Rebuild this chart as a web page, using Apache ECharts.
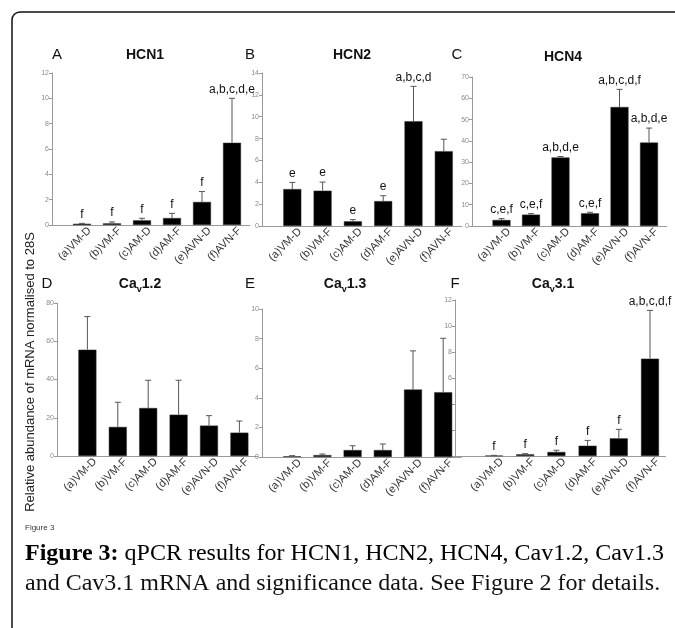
<!DOCTYPE html>
<html>
<head>
<meta charset="utf-8">
<title>Figure 3</title>
<script src="https://cdn.jsdelivr.net/npm/echarts@6/dist/echarts.min.js"></script>
<style>
html, body { margin: 0; padding: 0; background: #fff; }
#main { width: 675px; height: 628px; }
</style>
</head>
<body>
<div id="main"></div>
<script>
// categories (x axis)
var cats = ['(a)VM-D', '(b)VM-F', '(c)AM-D', '(d)AM-F', '(e)AVN-D', '(f)AVN-F'];

// mean and error (upper half of error bar) per panel
var hcn1 = [0.10, 0.13, 0.37, 0.55, 1.82, 6.49];
var hcn1Err = [0.03, 0.11, 0.16, 0.37, 0.82, 3.51];
var hcn1Sig = ['f', 'f', 'f', 'f', 'f', 'a,b,c,d,e'];

var hcn2 = [3.38, 3.23, 0.43, 2.28, 9.59, 6.85];
var hcn2Err = [0.61, 0.79, 0.15, 0.49, 3.19, 1.09];
var hcn2Sig = ['e', 'e', 'e', 'e', 'a,b,c,d', ''];

var hcn4 = [2.83, 5.34, 32.2, 5.97, 55.9, 39.2];
var hcn4Err = [0.62, 0.46, 0.45, 0.47, 8.3, 6.8];
var hcn4Sig = ['c,e,f', 'c,e,f', 'a,b,d,e', 'c,e,f', 'a,b,c,d,f', 'a,b,d,e'];

var cav12 = [55.6, 15.2, 25.1, 21.6, 15.9, 12.2];
var cav12Err = [17.3, 12.9, 14.5, 18.0, 5.2, 6.1];
var cav12Sig = ['', '', '', '', '', ''];

var cav13 = [0.05, 0.13, 0.47, 0.47, 4.56, 4.38];
var cav13Err = [0.04, 0.07, 0.29, 0.41, 2.61, 3.64];
var cav13Sig = ['', '', '', '', '', ''];

var cav31 = [0.03, 0.13, 0.31, 0.79, 1.36, 7.49];
var cav31Err = [0.02, 0.05, 0.13, 0.41, 0.69, 3.71];
var cav31Sig = ['f', 'f', 'f', 'f', 'f', 'a,b,c,d,f'];

var panels = [
    {mean: hcn1, err: hcn1Err, sig: hcn1Sig, yMax: 12, yStep: 2},
    {mean: hcn2, err: hcn2Err, sig: hcn2Sig, yMax: 14, yStep: 2},
    {mean: hcn4, err: hcn4Err, sig: hcn4Sig, yMax: 70, yStep: 10},
    {mean: cav12, err: cav12Err, sig: cav12Sig, yMax: 80, yStep: 20},
    {mean: cav13, err: cav13Err, sig: cav13Sig, yMax: 10, yStep: 2},
    {mean: cav31, err: cav31Err, sig: cav31Sig, yMax: 12, yStep: 2}
];

// layout of each small plot (pixels)
var layout = [
    {left: 52, top: 73, height: 152, unit: 30, xMin: -1, xMax: 5.6},
    {left: 262, top: 73, height: 153, unit: 30.3, xMin: -1, xMax: 5.6},
    {left: 472, top: 77, height: 149, unit: 29.5, xMin: -1, xMax: 5.6},
    {left: 57, top: 303, height: 153, unit: 30.4, xMin: -1, xMax: 5.6},
    {left: 262, top: 309, height: 148, unit: 30.2, xMin: -1, xMax: 5.6},
    {left: 455, top: 300, height: 156, unit: 31.2, xMin: -1.25, xMax: 5.5}
];

var sans = 'Liberation Sans, Arial, sans-serif';
var serif = 'Liberation Serif, Times New Roman, serif';

var myChart = echarts.init(document.getElementById('main'));

var grid = [], xAxis = [], yAxis = [], series = [];

function errRenderer(sig) {
    return function (params, api) {
        var p0 = api.coord([api.value(0), api.value(1)]);
        var p1 = api.coord([api.value(0), api.value(2)]);
        var kids = [
            {type: 'line', shape: {x1: p0[0], y1: p0[1], x2: p1[0], y2: p1[1]}, style: {stroke: '#555', lineWidth: 1}},
            {type: 'line', shape: {x1: p1[0] - 3, y1: p1[1], x2: p1[0] + 3, y2: p1[1]}, style: {stroke: '#555', lineWidth: 1}}
        ];
        var s = sig[params.dataIndex];
        if (s) {
            kids.push({type: 'text', style: {text: s, x: p1[0], y: p1[1] - 3, align: 'center', verticalAlign: 'bottom',
                fontSize: 12, fontFamily: sans, fill: '#111'}});
        }
        return {type: 'group', children: kids};
    };
}

for (var k = 0; k < panels.length; k++) {
    var p = panels[k], L = layout[k];
    grid.push({left: L.left, top: L.top, height: L.height, width: (L.xMax - L.xMin) * L.unit});
    xAxis.push({
        type: 'value', gridIndex: k, min: L.xMin, max: L.xMax, interval: 0.25,
        splitLine: {show: false}, axisTick: {show: false},
        axisLine: {show: true, onZero: false, lineStyle: {color: '#999', width: 1}},
        axisLabel: {
            rotate: 45, fontSize: 11, color: '#333', fontFamily: sans, margin: 4,
            formatter: function (v) {
                var i = Math.round((v - 0.25) * 100) / 100;
                return (i >= 0 && i <= 5 && i === Math.round(i)) ? cats[i] : '';
            }
        }
    });
    yAxis.push({
        type: 'value', gridIndex: k, min: 0, max: p.yMax, interval: p.yStep,
        splitLine: {show: false},
        axisLine: {show: true, onZero: false, lineStyle: {color: '#999', width: 1}},
        axisTick: {show: true, length: 3, lineStyle: {color: '#999'}},
        axisLabel: {fontSize: 7, color: '#888', margin: 3, fontFamily: sans}
    });
    var barData = [], errData = [];
    for (var i = 0; i < cats.length; i++) {
        barData.push([i, p.mean[i]]);
        errData.push([i, p.mean[i], p.mean[i] + p.err[i]]);
    }
    series.push({
        type: 'bar', xAxisIndex: k, yAxisIndex: k, data: barData, barWidth: 18,
        itemStyle: {color: '#000', borderColor: '#333', borderWidth: 0.5}, silent: true
    });
    series.push({
        type: 'custom', xAxisIndex: k, yAxisIndex: k, data: errData, clip: false,
        renderItem: errRenderer(p.sig), z: 3, silent: true
    });
}

function txt(text, x, y, size, weight, extra) {
    var st = {text: text, x: x, y: y, fontSize: size, fontWeight: weight || 'normal',
        fontFamily: sans, fill: '#111', align: 'center', verticalAlign: 'middle'};
    for (var key in extra) st[key] = extra[key];
    return {type: 'text', style: st, silent: true};
}

var subRich = {
    n: {fontSize: 14, fontWeight: 'bold', fontFamily: sans, color: '#111', lineHeight: 20},
    s: {fontSize: 9, fontWeight: 'bold', fontFamily: sans, color: '#111', lineHeight: 9, verticalAlign: 'bottom'}
};

// y title, rotated to read bottom-up
var yTitle = txt('Relative abundance of mRNA normalised to 28S', 0, 0, 13, 'normal', {fill: '#222'});
yTitle.x = 30;
yTitle.y = 372;
yTitle.rotation = Math.PI / 2;

var graphic = [
    {type: 'rect', shape: {x: 12, y: 12, width: 720, height: 700, r: 8},
        style: {fill: 'none', stroke: '#111', lineWidth: 1.5}, silent: true},
    txt('A', 57, 55, 15), txt('B', 250, 55, 15), txt('C', 457, 55, 15),
    txt('HCN1', 145, 55, 14, 'bold'), txt('HCN2', 352, 55, 14, 'bold'), txt('HCN4', 563, 57, 14, 'bold'),
    txt('D', 47, 284, 15), txt('E', 250, 284, 15), txt('F', 455, 284, 15),
    txt('{n|Ca}{s|v}{n|1.2}', 140, 284, 14, 'bold', {rich: subRich}),
    txt('{n|Ca}{s|v}{n|1.3}', 345, 284, 14, 'bold', {rich: subRich}),
    txt('{n|Ca}{s|v}{n|3.1}', 553, 284, 14, 'bold', {rich: subRich}),
    yTitle,
    txt('Figure 3', 25, 528, 8, 'normal', {align: 'left', fill: '#333'}),
    {type: 'text', silent: true, style: {
        text: '{b|Figure 3:}{n| qPCR results for HCN1, HCN2, HCN4, Cav1.2, Cav1.3}',
        x: 25, y: 554, verticalAlign: 'middle',
        rich: {b: {fontSize: 24, fontWeight: 'bold', fontFamily: serif, color: '#111'},
            n: {fontSize: 24, fontFamily: serif, color: '#111'}}
    }},
    {type: 'text', silent: true, style: {
        text: 'and Cav3.1 mRNA and significance data. See Figure 2 for details.',
        x: 25, y: 584, verticalAlign: 'middle', fontSize: 24, fontFamily: serif, fill: '#111'
    }}
];

var option = {
    backgroundColor: '#fff',
    animation: false,
    grid: grid,
    xAxis: xAxis,
    yAxis: yAxis,
    series: series,
    graphic: graphic
};
myChart.setOption(option);
</script>
</body>
</html>
